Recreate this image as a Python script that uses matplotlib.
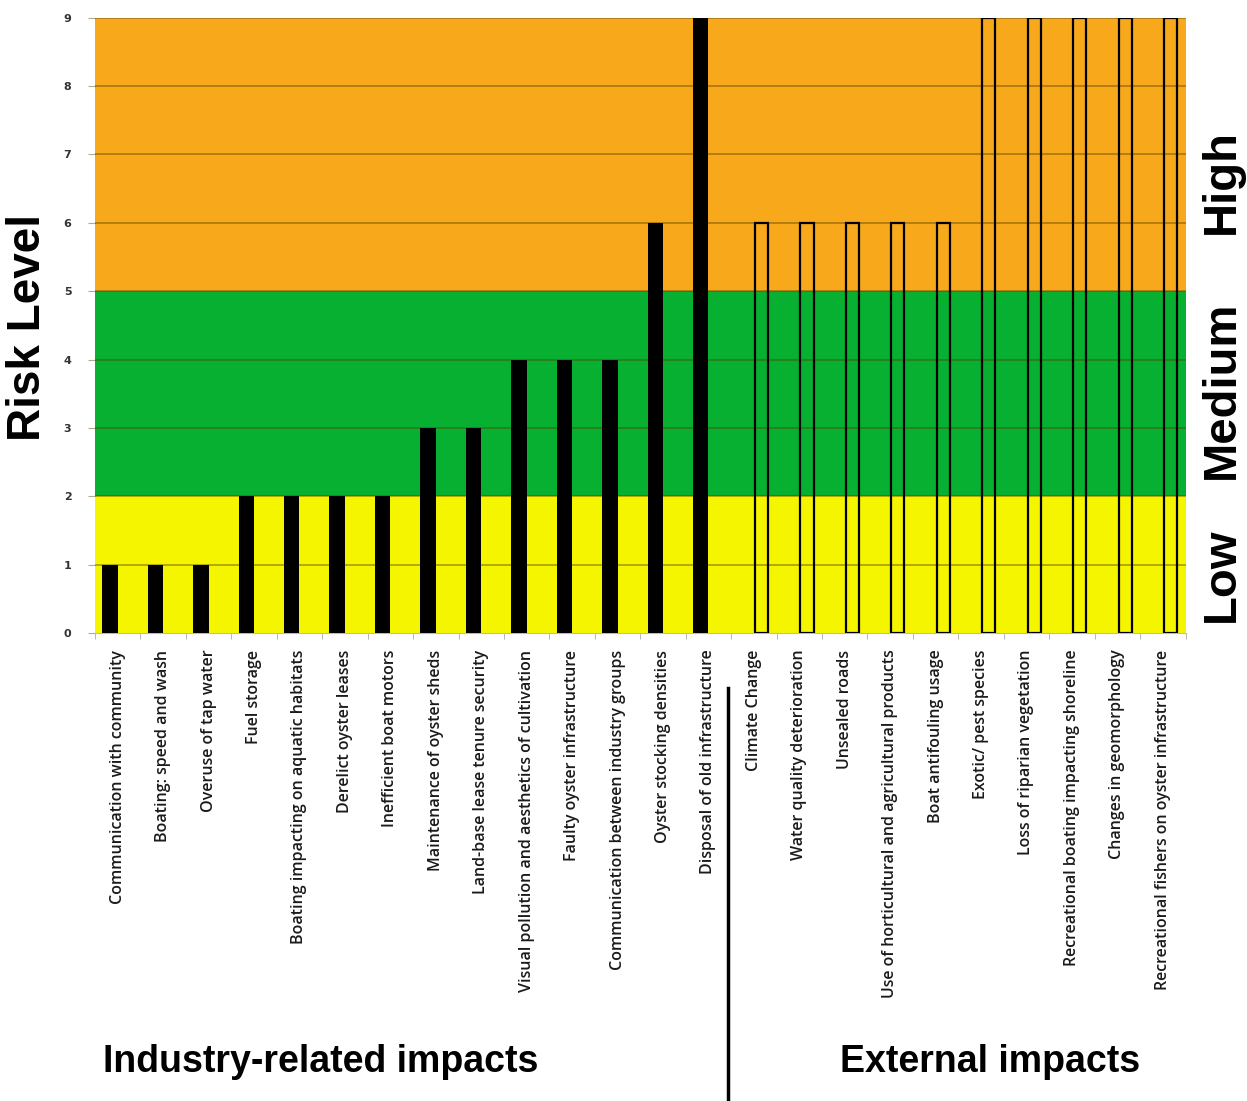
import matplotlib
matplotlib.use("Agg")
import matplotlib.pyplot as plt
import numpy as np

industry_labels = [
    "Communication with community", "Boating: speed and wash", "Overuse of tap water",
    "Fuel storage", "Boating impacting on aquatic habitats", "Derelict oyster leases",
    "Inefficient boat motors", "Maintenance of oyster sheds", "Land-base lease tenure security",
    "Visual pollution and aesthetics of cultivation", "Faulty oyster infrastructure",
    "Communication between industry groups", "Oyster stocking densities",
    "Disposal of old infrastructure",
]
industry_values = [1, 1, 1, 2, 2, 2, 2, 3, 3, 4, 4, 4, 6, 9]

external_labels = [
    "Climate Change", "Water quality deterioration", "Unsealed roads",
    "Use of horticultural and agricultural products", "Boat antifouling usage",
    "Exotic/ pest species", "Loss of riparian vegetation",
    "Recreational boating impacting shoreline", "Changes in geomorphology",
    "Recreational fishers on oyster infrastructure",
]
external_values = [6, 6, 6, 6, 6, 9, 9, 9, 9, 9]

band_edges = [0, 2, 5, 9]
band_names = ["Low", "Medium", "High"]
band_label_pos = [0.85, 3.55, 6.6]
band_colors = ["#F5F500", "#07B030", "#F7A81B"]
y_ticks = list(range(0, 10))

fig = plt.figure(figsize=(12.47, 11.01), dpi=100)
ax = fig.add_axes([0.0762, 0.425, 0.8745, 0.559])

n_ind = len(industry_labels)
n_ext = len(external_labels)
labels = industry_labels + external_labels
x_ind = np.arange(n_ind)
x_ext = np.arange(n_ind, n_ind + n_ext)

for lo, hi, c in zip(band_edges[:-1], band_edges[1:], band_colors):
    ax.axhspan(lo, hi, color=c, zorder=0, lw=0)

for y in y_ticks[1:]:
    ax.axhline(y, color=(0.35, 0.25, 0.0, 0.45), lw=1.3, zorder=1)

w = 0.34
off = 0.17
ax.bar(x_ind - off, industry_values, width=w, color="black", zorder=3)
ax.bar(x_ext + off, external_values, width=w * 0.85, facecolor="none",
       edgecolor="black", lw=1.6, zorder=3)

ax.set_xlim(-0.5, n_ind + n_ext - 0.5)
ax.set_ylim(0, 9)
ax.set_yticks(y_ticks)
ax.set_yticklabels([str(v) for v in y_ticks], fontsize=8, fontweight="bold",
                   color="#333333", family="DejaVu Sans")
ax.tick_params(axis="y", length=5, color=(0.35, 0.25, 0.0, 0.45), pad=12)

ax.set_xticks(np.arange(n_ind + n_ext))
ax.set_xticklabels(labels, rotation=90, fontsize=11.5, family="Open Sans",
                   fontweight="semibold", color="#1a1a1a")
ax.tick_params(axis="x", length=0, pad=12)
ax.set_xticks(np.arange(n_ind + n_ext + 1) - 0.5, minor=True)
ax.tick_params(axis="x", which="minor", length=4, color="#aaaaaa")

for s in ["top", "right", "left"]:
    ax.spines[s].set_visible(False)
ax.spines["bottom"].set_color("#bbbbbb")

fig.text(28 / 1247, 1 - 327 / 1101, "Risk Level", rotation=90, ha="center",
         va="center", fontsize=33, fontweight="bold", family="Liberation Sans")

band_tr = matplotlib.transforms.blended_transform_factory(fig.transFigure, ax.transData)
for pos, name in zip(band_label_pos, band_names):
    ax.text(1222 / 1247, pos, name, transform=band_tr, rotation=90,
            ha="center", va="center", fontsize=34, fontweight="bold",
            family="Liberation Sans")

fig.text(0.257, 1 - 1062 / 1101, "Industry-related impacts", ha="center", va="center",
         fontsize=27, fontweight="bold", family="Liberation Sans")
fig.text(0.794, 1 - 1062 / 1101, "External impacts", ha="center", va="center",
         fontsize=27, fontweight="bold", family="Liberation Sans")
fig.add_artist(plt.Line2D([0.584, 0.584], [0.0, 1 - 688 / 1101], color="black", lw=2.5,
                          transform=fig.transFigure))

fig.savefig("out.png", dpi=100, facecolor="white")
